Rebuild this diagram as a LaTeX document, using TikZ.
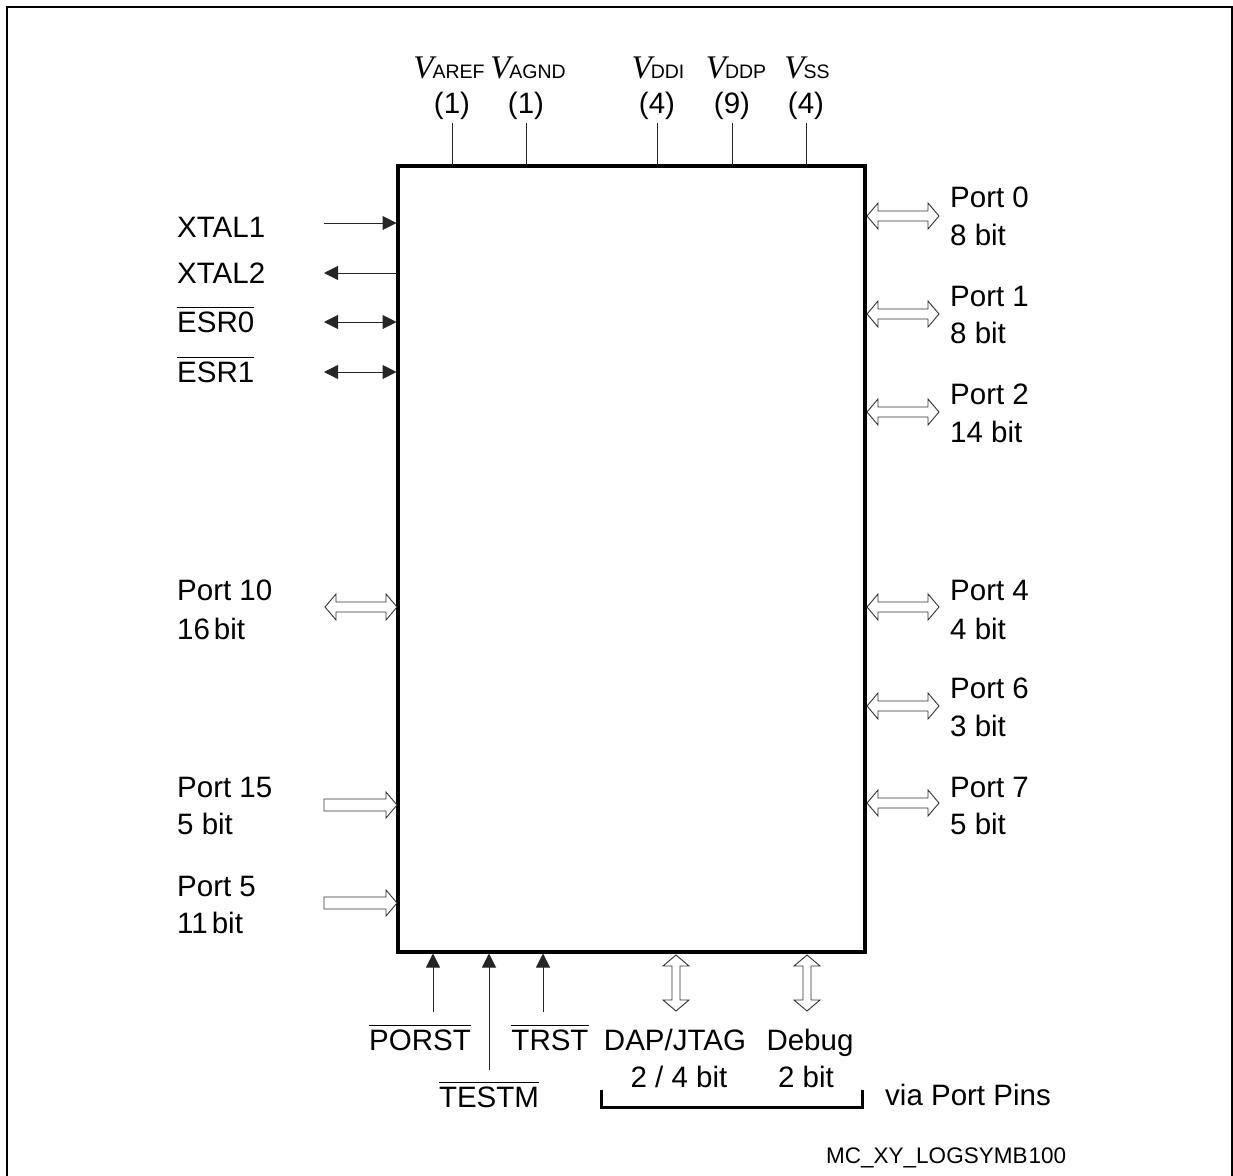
\documentclass[tikz,border=0pt]{standalone}
\usepackage{fontspec}
\setmainfont{Liberation Sans}
\newfontfamily\timesfont{Liberation Serif}
\usetikzlibrary{arrows.meta}
\newcommand{\ovl}[1]{\setbox0\hbox{#1}\rlap{\raisebox{\dimexpr\ht0+3.5pt\relax}{\rule{\wd0}{1.2pt}}}\box0}
\newcommand{\Vsub}[1]{{\timesfont\itshape\fontsize{33}{33}\selectfont V}\kern-1pt{\fontsize{19.5}{20}\selectfont #1}}
\newcommand{\hdblh}[3]{%
  \draw[hol] (#1,#3) -- (#1+11,#3-13) -- (#1+11,#3-5) -- (#2-11,#3-5) -- (#2-11,#3-13) -- (#2,#3)
    -- (#2-11,#3+13) -- (#2-11,#3+5) -- (#1+11,#3+5) -- (#1+11,#3+13) -- cycle;}
\newcommand{\hsingle}[3]{%
  \draw[hol] (#1,#3-6) -- (#2-11,#3-6) -- (#2-11,#3-13) -- (#2,#3) -- (#2-11,#3+13) -- (#2-11,#3+6) -- (#1,#3+6) -- cycle;}
\newcommand{\vdbl}[3]{%
  \draw[hol] (#1,#2) -- (#1+13,#2+11) -- (#1+4,#2+11) -- (#1+4,#3-11) -- (#1+13,#3-11) -- (#1,#3)
    -- (#1-13,#3-11) -- (#1-4,#3-11) -- (#1-4,#2+11) -- (#1-13,#2+11) -- cycle;}
\tikzset{
  lbl/.style={inner sep=0pt, font=\fontsize{29.5}{34}\selectfont},
  sig/.style={line width=1pt, draw=black!85},
  tip/.style={-{Triangle[length=14pt,width=14pt]}},
  hol/.style={line width=0.9pt, draw=black!80, fill=white},
}
\begin{document}
\begin{tikzpicture}[x=1pt,y=-1pt]
\useasboundingbox (0,0) rectangle (1233,1175);
% outer frame
\draw[line width=2pt] (7,1185) -- (7,7) -- (1232,7) -- (1232,1185);
% chip body
\node[draw, line width=3.5pt, inner sep=0pt, outer sep=0pt, minimum width=467pt, minimum height=786pt, anchor=north west] (chip) at (398,166) {};

% supply pins
\foreach \n/\x in {ta/452, tb/526, tc/657, td/732, te/806}{
  \coordinate (\n) at (\x,123);
  \draw[sig] (\n) -- (\n |- chip.north);
}
\node[lbl, anchor=base] (lva) at (449,78) {\Vsub{AREF}};
\node[lbl, anchor=base] (lvb) at (528,78) {\Vsub{AGND}};
\node[lbl, anchor=base] (lvc) at (658,78) {\Vsub{DDI}};
\node[lbl, anchor=base] (lvd) at (736,78) {\Vsub{DDP}};
\node[lbl, anchor=base] (lve) at (807,78) {\Vsub{SS}};
\node[lbl, anchor=base] (lna) at (452,113) {(1)};
\node[lbl, anchor=base] (lnb) at (526,113) {(1)};
\node[lbl, anchor=base] (lnc) at (657,113) {(4)};
\node[lbl, anchor=base] (lnd) at (732,113) {(9)};
\node[lbl, anchor=base] (lne) at (806,113) {(4)};

% left signal pins
\coordinate (xa) at (324,223);
\coordinate (xb) at (324,273);
\coordinate (xc) at (324,322);
\coordinate (xd) at (324,372);
\draw[sig, tip] (xa) -- ([xshift=-1.5pt]xa -| chip.west);
\draw[sig, tip] ([xshift=-1.5pt]xb -| chip.west) -- (xb);
\draw[sig, {Triangle[length=14pt,width=14pt]}-{Triangle[length=14pt,width=14pt]}] (xc) -- ([xshift=-1.5pt]xc -| chip.west);
\draw[sig, {Triangle[length=14pt,width=14pt]}-{Triangle[length=14pt,width=14pt]}] (xd) -- ([xshift=-1.5pt]xd -| chip.west);
\node[lbl, anchor=base west] (lx1) at (177,237) {XTAL1};
\node[lbl, anchor=base west] (lx2) at (177,283) {XTAL2};
\node[lbl, anchor=base west] (le0) at (177,332) {\ovl{ESR0}};
\node[lbl, anchor=base west] (le1) at (177,382) {\ovl{ESR1}};

% left ports
\hdblh{325}{397}{607}
\hsingle{324}{397}{805}
\hsingle{324}{397}{903}
\node[lbl, anchor=base west] (lp10) at (177,600) {Port 10};
\node[lbl, anchor=base west] (lp10b) at (177,639) {16\hspace{4pt}bit};
\node[lbl, anchor=base west] (lp15) at (177,797) {Port 15};
\node[lbl, anchor=base west] (lp15b) at (177,834) {5 bit};
\node[lbl, anchor=base west] (lp5) at (177,896) {Port 5};
\node[lbl, anchor=base west] (lp5b) at (177,933) {11\hspace{4pt}bit};

% right ports
\hdblh{867}{939}{216}
\hdblh{867}{939}{314}
\hdblh{867}{939}{412}
\hdblh{867}{939}{607}
\hdblh{867}{939}{706}
\hdblh{867}{939}{803}
\node[lbl, anchor=base west] (rp0) at (950,207) {Port 0};
\node[lbl, anchor=base west] (rp0b) at (950,245) {8 bit};
\node[lbl, anchor=base west] (rp1) at (950,306) {Port 1};
\node[lbl, anchor=base west] (rp1b) at (950,343) {8 bit};
\node[lbl, anchor=base west] (rp2) at (950,404) {Port 2};
\node[lbl, anchor=base west] (rp2b) at (950,442) {14 bit};
\node[lbl, anchor=base west] (rp4) at (950,600) {Port 4};
\node[lbl, anchor=base west] (rp4b) at (950,639) {4 bit};
\node[lbl, anchor=base west] (rp6) at (950,698) {Port 6};
\node[lbl, anchor=base west] (rp6b) at (950,736) {3 bit};
\node[lbl, anchor=base west] (rp7) at (950,797) {Port 7};
\node[lbl, anchor=base west] (rp7b) at (950,834) {5 bit};

% bottom pins
\coordinate (ba) at (433,1012);
\coordinate (bb) at (489,1070);
\coordinate (bc) at (543,1012);
\draw[sig, tip] (ba) -- ([yshift=-1.5pt]ba |- chip.south);
\draw[sig, tip] (bb) -- ([yshift=-1.5pt]bb |- chip.south);
\draw[sig, tip] (bc) -- ([yshift=-1.5pt]bc |- chip.south);
\node[lbl, anchor=base] (lporst) at (420,1050) {\ovl{PORST}};
\node[lbl, anchor=base] (ltrst) at (550,1050) {\ovl{TRST}};
\node[lbl, anchor=base] (ltestm) at (489,1107) {\ovl{TESTM}};

\vdbl{676}{955}{1011}
\vdbl{807}{955}{1011}
\node[lbl, anchor=base] (ldap) at (675,1050) {DAP/JTAG};
\node[lbl, anchor=base] (ldapb) at (679,1087) {2 / 4 bit};
\node[lbl, anchor=base] (ldbg) at (810,1050) {Debug};
\node[lbl, anchor=base] (ldbgb) at (806,1087) {2 bit};
\draw[line width=3pt] (601,1090) -- (601,1107) -- (862,1107) -- (862,1090);
\node[lbl, anchor=base west] (lvia) at (885,1105) {via Port Pins};

\node[inner sep=0pt, anchor=base west, font=\fontsize{22.5}{26}\selectfont] (lcap) at (826,1163) {MC\_XY\_LOGSYMB\kern1pt100};
\end{tikzpicture}
\end{document}
